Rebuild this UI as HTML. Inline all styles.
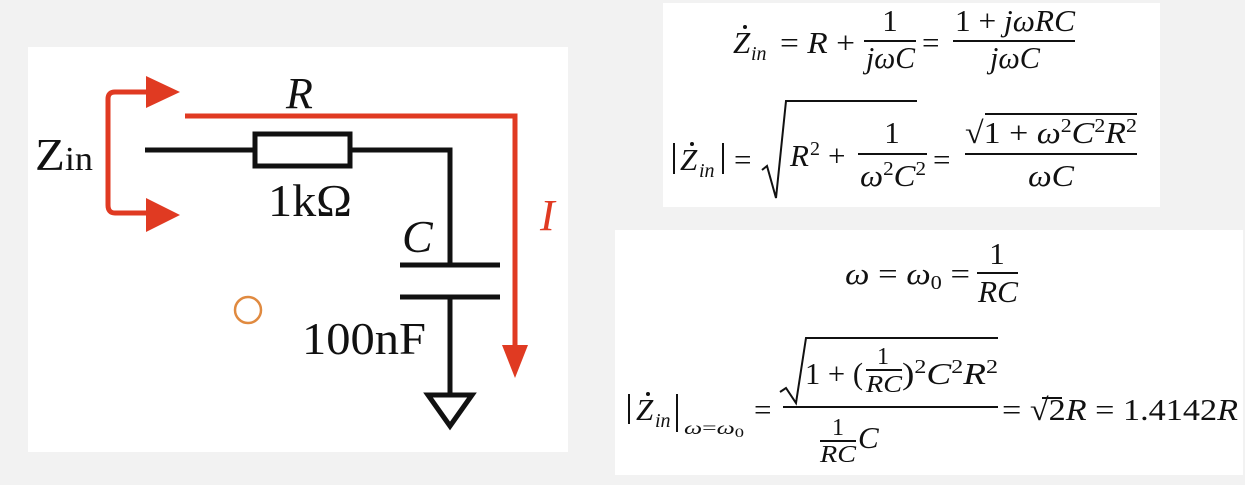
<!DOCTYPE html>
<html><head><meta charset="utf-8"><style>
html,body{margin:0;padding:0;background:#f2f2f2;}
svg{display:block}
text{font-family:"Liberation Serif","DejaVu Serif",serif;fill:#111}
.m{font-size:31px}
.s{font-size:20px}
.i{font-style:italic}
</style></head><body>
<svg width="1245" height="485" viewBox="0 0 1245 485" xmlns="http://www.w3.org/2000/svg">
<rect x="0" y="0" width="1245" height="485" fill="#f2f2f2"/>
<rect x="28" y="47" width="540" height="405" fill="#fff"/>
<rect x="663" y="3" width="497" height="204" fill="#fff"/>
<rect x="615" y="230" width="628" height="245" fill="#fff"/>

<!-- circuit -->
<g stroke="#111" stroke-width="5" fill="none">
<line x1="145" y1="150" x2="255" y2="150"/>
<rect x="255" y="134" width="95" height="32"/>
<polyline points="350,150 450,150 450,265"/>
<line x1="400" y1="265" x2="500" y2="265"/>
<line x1="400" y1="297" x2="500" y2="297"/>
<line x1="450" y1="297" x2="450" y2="395"/>
<polygon points="428,395 472,395 450,426"/>
</g>
<g stroke="#e03a22" stroke-width="5" fill="none">
<polyline points="185,116 515,116 515,350"/>
<path d="M150,92 H115 Q108,92 108,99 V205 Q108,213 115,213 H150"/>
</g>
<g fill="#e03a22">
<polygon points="502,345 528,345 515,378"/>
<polygon points="146,76 180,92 146,108"/>
<polygon points="146,198 180,215 146,232"/>
</g>
<circle cx="248" cy="310" r="13" fill="none" stroke="#e08a40" stroke-width="2.5"/>
<text x="35" y="170" font-size="46" textLength="58" lengthAdjust="spacingAndGlyphs">Z<tspan font-size="34">in</tspan></text>
<text x="286" y="108" font-size="44" class="i">R</text>
<text x="268" y="216" font-size="46" textLength="84" lengthAdjust="spacingAndGlyphs">1kΩ</text>
<text x="402" y="252" font-size="46" class="i">C</text>
<text x="302" y="354" font-size="46" textLength="124" lengthAdjust="spacingAndGlyphs">100nF</text>
<text x="540" y="230" font-size="44" class="i" style="fill:#e03a22">I</text>

<!-- eq1 -->
<text x="733" y="53" class="m i">Z</text>
<text x="751" y="60" class="s i">in</text>
<circle cx="745" cy="27" r="2" fill="#111"/>
<text x="780" y="53" class="m" textLength="75" lengthAdjust="spacingAndGlyphs">= <tspan class="i">R</tspan> +</text>
<text x="890" y="31" class="m" text-anchor="middle">1</text>
<text x="866" y="68" class="m i" textLength="49" lengthAdjust="spacingAndGlyphs">jωC</text>
<text x="922" y="53" class="m">=</text>
<text x="955" y="31" class="m" textLength="120" lengthAdjust="spacingAndGlyphs">1 + <tspan class="i">jωRC</tspan></text>
<text x="990" y="68" class="m i" textLength="50" lengthAdjust="spacingAndGlyphs">jωC</text>
<g stroke="#111" stroke-width="2">
<line x1="864" y1="41" x2="916" y2="41"/>
<line x1="953" y1="41" x2="1075" y2="41"/>
</g>

<!-- eq2 -->
<text x="680" y="170" class="m i">Z</text>
<text x="699" y="177" class="s i">in</text>
<circle cx="692" cy="144" r="2" fill="#111"/>
<text x="734" y="170" class="m">=</text>
<text x="790" y="166" class="m i">R</text>
<text x="810" y="155" class="s">2</text>
<text x="828" y="166" class="m">+</text>
<text x="892" y="143" class="m" text-anchor="middle">1</text>
<text x="860" y="186" class="m i" textLength="66" lengthAdjust="spacingAndGlyphs">ω<tspan class="s" style="font-style:normal" dy="-11">2</tspan><tspan dy="11">C</tspan><tspan class="s" style="font-style:normal" dy="-11">2</tspan></text>
<text x="933" y="170" class="m">=</text>
<text x="965" y="143" class="m" textLength="172" lengthAdjust="spacingAndGlyphs">√1 + <tspan class="i">ω</tspan><tspan class="s" dy="-11">2</tspan><tspan dy="11" class="i">C</tspan><tspan class="s" dy="-11">2</tspan><tspan dy="11" class="i">R</tspan><tspan class="s" dy="-11">2</tspan></text>
<text x="1028" y="186" class="m i" textLength="46" lengthAdjust="spacingAndGlyphs">ωC</text>
<g stroke="#111" stroke-width="2" fill="none">
<line x1="674" y1="143" x2="674" y2="174"/>
<line x1="723" y1="143" x2="723" y2="174"/>
<polyline points="762,170 767,166 776,198 786,101 917,101"/>
<line x1="858" y1="154" x2="927" y2="154"/>
<line x1="965" y1="154" x2="1137" y2="154"/>
<line x1="985" y1="114" x2="1137" y2="114"/>
</g>

<!-- eq3 -->
<text x="845" y="284" class="m" textLength="125" lengthAdjust="spacingAndGlyphs"><tspan class="i">ω</tspan> = <tspan class="i">ω</tspan><tspan class="s" dy="5">0</tspan><tspan dy="-5"> =</tspan></text>
<text x="997" y="264" class="m" text-anchor="middle">1</text>
<text x="978" y="302" class="m i" textLength="40" lengthAdjust="spacingAndGlyphs">RC</text>
<line x1="977" y1="273" x2="1018" y2="273" stroke="#111" stroke-width="2"/>

<!-- eq4 -->
<text x="636" y="420" class="m i">Z</text>
<text x="655" y="427" class="s i">in</text>
<circle cx="648" cy="394" r="2" fill="#111"/>
<line x1="629" y1="394" x2="629" y2="424" stroke="#111" stroke-width="2"/>
<line x1="677" y1="394" x2="677" y2="432" stroke="#111" stroke-width="2"/>
<text x="684" y="434" font-size="18" class="i" textLength="60" lengthAdjust="spacingAndGlyphs">ω<tspan style="font-style:normal">=</tspan>ω<tspan font-size="13" dy="3" style="font-style:normal">0</tspan></text>
<text x="754" y="420" class="m">=</text>
<text x="805" y="384" class="m" textLength="58" lengthAdjust="spacingAndGlyphs">1 + (</text>
<text x="883" y="364" font-size="24" text-anchor="middle">1</text>
<text x="866" y="392" font-size="24" class="i" textLength="36" lengthAdjust="spacingAndGlyphs">RC</text>
<text x="902" y="384" class="m" textLength="96" lengthAdjust="spacingAndGlyphs">)<tspan class="s" dy="-11">2</tspan><tspan dy="11" class="i">C</tspan><tspan class="s" dy="-11">2</tspan><tspan dy="11" class="i">R</tspan><tspan class="s" dy="-11">2</tspan></text>
<text x="838" y="435" font-size="24" text-anchor="middle">1</text>
<text x="820" y="462" font-size="24" class="i" textLength="36" lengthAdjust="spacingAndGlyphs">RC</text>
<text x="858" y="448" class="m i">C</text>
<text x="1002" y="420" class="m" textLength="236" lengthAdjust="spacingAndGlyphs">= √2<tspan class="i">R</tspan> = 1.4142<tspan class="i">R</tspan></text>
<g stroke="#111" stroke-width="2" fill="none">
<polyline points="780,392 786,388 796,403 806,338 998,338"/>
<line x1="866" y1="370" x2="902" y2="370"/>
<line x1="783" y1="407" x2="998" y2="407"/>
<line x1="820" y1="441" x2="856" y2="441"/>
<line x1="1042" y1="398" x2="1062" y2="398"/>
</g>
</svg>
</body></html>
